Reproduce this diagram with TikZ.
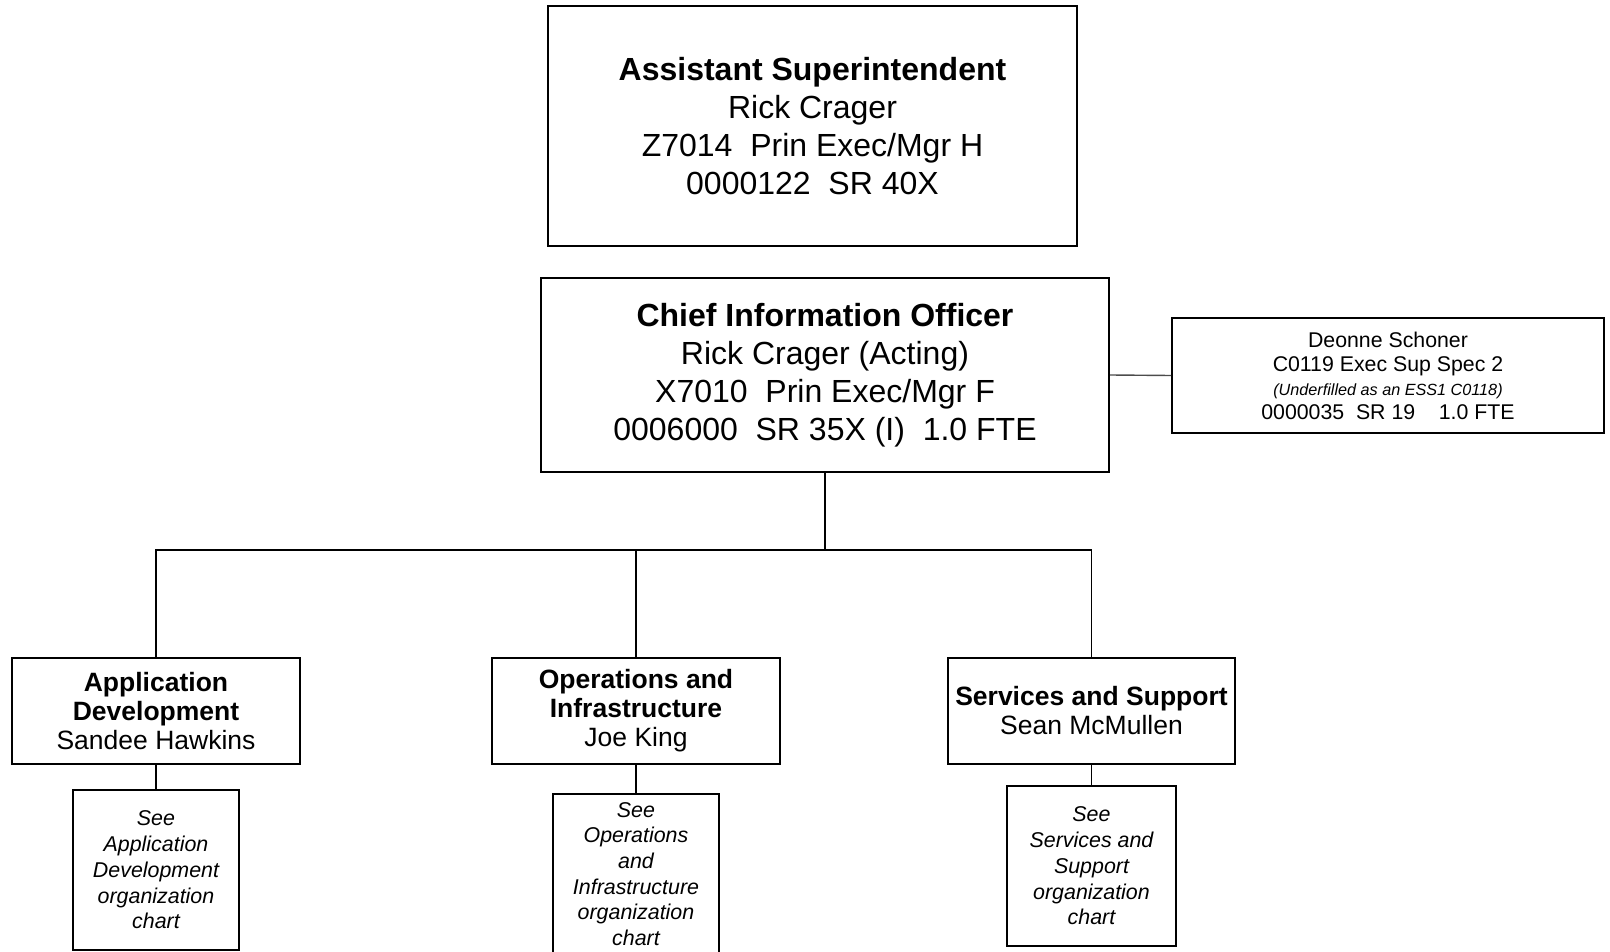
\documentclass[tikz,border=0pt]{standalone}
\usepackage{fontspec}
\setmainfont{Liberation Sans}
\begin{document}
\begin{tikzpicture}[x=1pt,y=-1pt,
  box/.style={draw=black, line width=2pt, rectangle, inner sep=0pt, align=center},
  link/.style={draw=black, line width=1.6pt},
  big/.style={font=\fontsize{32}{38}\selectfont},
  unit/.style={font=\fontsize{26.5}{29}\selectfont},
  seebox/.style={box, font=\fontsize{21.4}{25.7}\selectfont\itshape},
]
\useasboundingbox (0,0) rectangle (1610,952);

% executive level
\node[box, big, minimum width=529pt, minimum height=240pt] (asst) at (812.5,126)
  {\textbf{Assistant Superintendent}\\Rick Crager\\Z7014\ \ Prin Exec/Mgr H\\0000122\ \ SR 40X};

\node[box, big, minimum width=568pt, minimum height=194pt] (cio) at (825,375)
  {\textbf{Chief Information Officer}\\Rick Crager (Acting)\\X7010\ \ Prin Exec/Mgr F\\0006000\ \ SR 35X (I)\ \ 1.0 FTE};

\node[box, font=\fontsize{21.3}{24}\selectfont, minimum width=432pt, minimum height=115pt] (staff) at (1388,375.5)
  {Deonne Schoner\\C0119 Exec Sup Spec 2\\{\fontsize{16.2}{18}\selectfont\itshape (Underfilled as an ESS1 C0118)}\\0000035\ \ SR 19\ \ \ \ 1.0 FTE};

% divisions
\node[box, unit, minimum width=288pt, minimum height=106pt] (appdev) at (156,711)
  {\textbf{Application}\\\textbf{Development}\\Sandee Hawkins};
\node[box, unit, minimum width=288pt, minimum height=106pt] (ops) at (636,711)
  {\textbf{Operations and}\\\textbf{Infrastructure}\\Joe King};
\node[box, unit, minimum width=287pt, minimum height=106pt] (svc) at (1091.5,711)
  {\textbf{Services and Support}\\Sean McMullen};

% references to the division charts
\node[seebox, minimum width=166pt, minimum height=160pt] (appdevsee) at (156,870)
  {See\\Application\\Development\\organization\\chart};
\node[seebox, minimum width=166pt, minimum height=160pt] (opssee) at (636,874)
  {See\\Operations\\and\\Infrastructure\\organization\\chart};
\node[seebox, minimum width=169pt, minimum height=160pt] (svcsee) at (1091.5,866)
  {See\\Services and\\Support\\organization\\chart};

% connectors
\coordinate (bus) at (825,550);
\draw[link] (cio.south) -- (bus);
\draw[link] (bus) -| (appdev.north);
\draw[link] (bus) -| (ops.north);
\draw[link] (bus) -| (svc.north);
\draw[draw=black!70, line width=1.4pt] (cio.east) -- (staff.west);
\draw[link] (appdev.south) -- (appdevsee.north);
\draw[link] (ops.south) -- (opssee.north);
\draw[link] (svc.south) -- (svcsee.north);
\end{tikzpicture}
\end{document}
